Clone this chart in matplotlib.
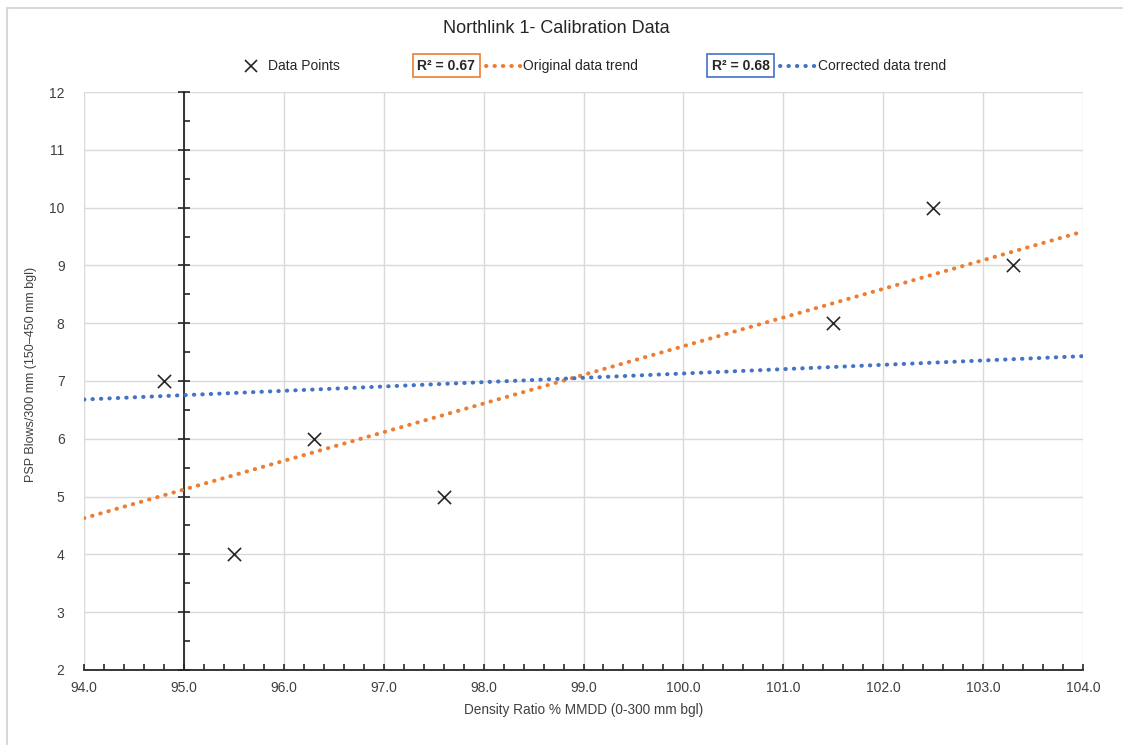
#!/usr/bin/env python3
"""Northlink 1 calibration data: PSP blows vs density ratio with two trendlines."""

import matplotlib

matplotlib.use("Agg")
import matplotlib.pyplot as plt
import numpy as np
from matplotlib.lines import Line2D
from matplotlib.patches import Rectangle
from matplotlib.ticker import MultipleLocator

plt.rcParams["font.family"] = ["Liberation Sans Narrow", "Liberation Sans", "DejaVu Sans"]

# Measured points
density_ratio = [94.8, 95.5, 96.3, 97.6, 101.5, 102.5, 103.3]
psp_blows = [7, 4, 6, 5, 8, 10, 9]

# Corrected trend (fitted on data not shown)
corrected_slope = 0.075
corrected_intercept = -0.37

r2_original = "R² = 0.67"
r2_corrected = "R² = 0.68"

ORANGE = "#ED7D31"
BLUE = "#4472C4"
GRID = "#D9D9D9"
TEXT = "#404040"
DOTS = (0, (0.1, 2.0))
DOT_LW = 2.9

fig = plt.figure(figsize=(11.23, 7.45), dpi=100)
ax = fig.add_axes([0.0748, 0.1007, 0.8896, 0.7758])

# trendlines across the full x range
x_line = np.linspace(94, 104, 200)
coef = np.polyfit(density_ratio, psp_blows, 1)
ax.plot(x_line, np.polyval(coef, x_line), color=ORANGE, lw=DOT_LW,
        linestyle=DOTS, dash_capstyle="round", zorder=3)
ax.plot(x_line, corrected_slope * x_line + corrected_intercept, color=BLUE, lw=DOT_LW,
        linestyle=DOTS, dash_capstyle="round", zorder=3)

ax.scatter(density_ratio, psp_blows, marker="x", s=90, color="#262626",
           linewidths=1.2, zorder=4)

ax.set_xlim(94, 104)
ax.set_ylim(2, 12)
ax.xaxis.set_major_locator(MultipleLocator(1))
ax.xaxis.set_minor_locator(MultipleLocator(0.2))
ax.yaxis.set_major_locator(MultipleLocator(1))
ax.yaxis.set_minor_locator(MultipleLocator(0.5))
ax.xaxis.set_major_formatter(lambda v, p: f"{v:.1f}")
ax.grid(True, which="major", color=GRID, lw=1, zorder=0)

for s in ("top", "right"):
    ax.spines[s].set_visible(False)
ax.spines["bottom"].set_color("#262626")
ax.spines["bottom"].set_linewidth(1.3)
ax.spines["left"].set_position(("data", 95))
ax.spines["left"].set_color("#262626")
ax.spines["left"].set_linewidth(1.3)

ax.tick_params(axis="x", which="major", direction="in", length=4, width=1.2,
               color="#262626", labelsize=10, labelcolor=TEXT, pad=8)
ax.tick_params(axis="x", which="minor", direction="in", length=4, width=1.2, color="#262626")
ax.tick_params(axis="y", which="major", direction="inout", length=8, width=1.2,
               color="#262626", labelleft=False)
ax.tick_params(axis="y", which="minor", direction="in", length=4, width=1.2, color="#262626")

# y labels sit at the left edge of the plot area, not on the axis line
sec = ax.secondary_yaxis(0.0)
sec.yaxis.set_major_locator(MultipleLocator(1))
sec.spines["left"].set_visible(False)
sec.tick_params(length=0, labelsize=10, labelcolor=TEXT, pad=14)

ax.set_xlabel("Density Ratio % MMDD (0-300 mm bgl)", fontsize=9.8, color=TEXT, labelpad=6)
fig.text(0.028, 0.498, "PSP Blows/300 mm (150–450 mm bgl)", rotation=90,
         ha="center", va="center", fontsize=9, color=TEXT)

fig.text(0.495, 0.962, "Northlink 1- Calibration Data", ha="center", va="center",
         fontsize=13, color="#262626")

# legend row built by hand
leg_y = 0.912
fig.add_artist(Line2D([0.2235], [leg_y], marker="x", color="#262626", ms=9, mew=1.2))
fig.text(0.2385, leg_y, "Data Points", ha="left", va="center", fontsize=10, color="#262626")

fig.text(0.3975, leg_y, r2_original, ha="center", va="center", fontsize=10,
         fontweight="bold", color="#262626",
         bbox=dict(boxstyle="square,pad=0.35", fc="white", ec=ORANGE, lw=1.2))
fig.add_artist(Line2D([0.433, 0.4645], [leg_y, leg_y], color=ORANGE, lw=DOT_LW,
                      linestyle=DOTS, dash_capstyle="round"))
fig.text(0.4655, leg_y, "Original data trend", ha="left", va="center", fontsize=10,
         color="#262626")

fig.text(0.6595, leg_y, r2_corrected, ha="center", va="center", fontsize=10,
         fontweight="bold", color="#262626",
         bbox=dict(boxstyle="square,pad=0.35", fc="white", ec=BLUE, lw=1.2))
fig.add_artist(Line2D([0.695, 0.726], [leg_y, leg_y], color=BLUE, lw=DOT_LW,
                      linestyle=DOTS, dash_capstyle="round"))
fig.text(0.7285, leg_y, "Corrected data trend", ha="left", va="center", fontsize=10,
         color="#262626")

# outer chart border
fig.add_artist(Rectangle((0.006, -0.1), 1.1, 1.089, transform=fig.transFigure,
                         fill=False, ec="#D9D9D9", lw=1.5))

fig.savefig("out.png", dpi=100)
